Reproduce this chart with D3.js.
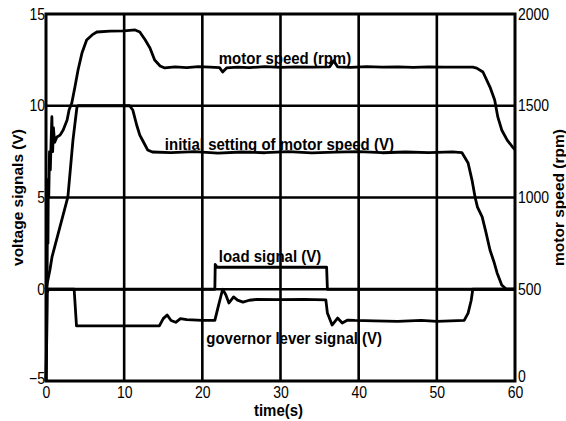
<!DOCTYPE html>
<html>
<head>
<meta charset="utf-8">
<script src="https://cdn.jsdelivr.net/npm/d3@7"></script>
<style>
  body { margin: 0; background: #fff; }
  text { font-family: "Liberation Sans", Arial, sans-serif; fill: #000; }
</style>
</head>
<body>
<div id="chart"></div>
<script>
// tick labels
const xTicks = [0, 10, 20, 30, 40, 50, 60];
const voltTicks = [-5, 0, 5, 10, 15];
const rpmTicks = [0, 500, 1000, 1500, 2000];

// motor speed (rpm), right axis
const motorTime = [0, 0.1, 0.2, 0.25, 0.3, 0.35, 0.45, 0.55, 0.65, 0.75, 0.85, 0.95, 1.1, 1.4, 1.8, 2.2, 2.7, 2.95, 3.3, 3.7, 4.1, 4.6, 5.2, 5.9, 6.5, 8.2, 10, 11.4, 12.0, 12.7, 13.3, 13.9, 14.6, 15.2, 16.5, 18, 19.5, 21, 22.2, 22.6, 23.1, 24.5, 26, 28, 30, 32, 34, 36.3, 36.8, 37.3, 39, 41, 43, 45, 47, 49, 51, 53, 54.6, 55.1, 55.9, 56.8, 57.4, 57.8, 58.3, 59.0, 59.7, 60];
const motorRpm = [0, 250, 1000, 750, 1100, 1000, 1250, 1150, 1300, 1440, 1250, 1380, 1300, 1330, 1340, 1368, 1422, 1477, 1515, 1602, 1695, 1787, 1858, 1886, 1902, 1907, 1908, 1913, 1902, 1858, 1815, 1749, 1717, 1706, 1712, 1708, 1713, 1710, 1708, 1684, 1706, 1711, 1708, 1713, 1709, 1712, 1710, 1712, 1745, 1712, 1709, 1713, 1710, 1712, 1709, 1712, 1710, 1711, 1710, 1705, 1684, 1602, 1531, 1439, 1368, 1313, 1275, 1260];

// initial setting of motor speed (V)
const settingTime = [0, 0.5, 0.77, 2.8, 3.45, 3.96, 4.1, 10.7, 11.1, 11.6, 12.0, 12.4, 13.0, 13.6, 16, 19, 22, 25, 28, 31, 34, 37, 40, 43, 46, 49, 52, 53.2, 54.0, 54.5, 54.9, 55.2, 55.8, 56.3, 56.8, 57.3, 57.7, 58.3, 58.9, 60];
const settingVolt = [0, 1.05, 1.76, 5.03, 8.13, 9.93, 10, 10, 9.77, 8.95, 8.4, 8.08, 7.59, 7.48, 7.45, 7.5, 7.42, 7.48, 7.44, 7.5, 7.43, 7.47, 7.5, 7.44, 7.48, 7.45, 7.49, 7.45, 6.88, 5.95, 5.0, 4.48, 3.94, 3.07, 2.14, 1.5, 0.9, 0.23, 0, 0];

// load signal (V)
const loadTime = [0, 21.6, 21.65, 21.9, 35.9, 36.0, 60];
const loadVolt = [0, 0, 1.35, 1.2, 1.2, 0, 0];

// governor lever signal (V)
const leverTime = [0, 0.15, 0.3, 3.6, 3.9, 8, 14.5, 15.0, 15.5, 16.0, 16.6, 17.2, 18, 20, 21.6, 22.0, 22.6, 23.0, 23.4, 24.0, 24.5, 25.2, 26.0, 27, 30, 33, 35.8, 36.0, 36.6, 37.3, 37.9, 38.6, 39.5, 42, 45, 48, 50, 53.5, 54.0, 54.4, 54.6, 60];
const leverVolt = [-5, -0.2, 0, 0, -2.0, -2.0, -2.0, -1.6, -1.4, -1.7, -1.8, -1.6, -1.65, -1.7, -1.7, -1.0, 0.0, -0.3, -0.75, -0.42, -0.59, -0.7, -0.6, -0.55, -0.57, -0.55, -0.58, -1.3, -1.95, -1.57, -1.84, -1.68, -1.7, -1.72, -1.75, -1.7, -1.75, -1.7, -1.3, -0.6, 0, 0];

const width = 566, height = 421;
const margin = {top: 14, right: 51, bottom: 40, left: 46};
const stretch = 1.15; // glyphs in the original are a bit tall

const x = d3.scaleLinear().domain([0, 60]).range([margin.left, width - margin.right]);
const yV = d3.scaleLinear().domain([-5, 15]).range([height - margin.bottom, margin.top]);
const yR = d3.scaleLinear().domain([0, 2000]).range([height - margin.bottom, margin.top]);

const svg = d3.select("#chart").append("svg")
    .attr("width", width)
    .attr("height", height);

const pairs = (ts, vs) => ts.map((t, i) => [t, vs[i]]);

const lineV = d3.line().x(d => x(d[0])).y(d => yV(d[1]));
const lineR = d3.line().x(d => x(d[0])).y(d => yR(d[1]));

// data lines
const lines = svg.append("g")
    .attr("fill", "none")
    .attr("stroke", "#000")
    .attr("stroke-width", 2.8)
    .attr("stroke-linejoin", "round");

lines.append("path").attr("d", lineR(pairs(motorTime, motorRpm)));
lines.append("path").attr("d", lineV(pairs(settingTime, settingVolt)));
lines.append("path").attr("d", lineV(pairs(loadTime, loadVolt)));
lines.append("path").attr("d", lineV(pairs(leverTime, leverVolt)));

// labels on the curves
const notes = [
    {text: "motor speed (rpm)", t: 22.1, v: 12.3},
    {text: "initial setting of motor speed (V)", t: 15.2, v: 7.6},
    {text: "load signal (V)", t: 22.1, v: 1.5},
    {text: "governor lever signal (V)", t: 20.5, v: -3.0}
];
svg.append("g").selectAll("text")
    .data(notes)
    .join("text")
    .attr("transform", d => "translate(" + x(d.t) + "," + yV(d.v) + ") scale(1," + stretch + ")")
    .attr("font-size", 15)
    .attr("font-weight", "bold")
    .text(d => d.text);

// grid, drawn over the labels like the original
const grid = svg.append("g").attr("stroke", "#000").attr("stroke-width", 2.6);
grid.selectAll("line.v")
    .data(xTicks.slice(1, -1))
    .join("line")
    .attr("x1", d => x(d)).attr("x2", d => x(d))
    .attr("y1", yV(15)).attr("y2", yV(-5));
grid.selectAll("line.h")
    .data([0, 5, 10])
    .join("line")
    .attr("x1", x(0)).attr("x2", x(60))
    .attr("y1", d => yV(d)).attr("y2", d => yV(d));

// frame
svg.append("rect")
    .attr("x", x(0)).attr("y", yV(15))
    .attr("width", x(60) - x(0)).attr("height", yV(-5) - yV(15))
    .attr("fill", "none")
    .attr("stroke", "#000")
    .attr("stroke-width", 3);

// axes
const xAxis = svg.append("g")
    .attr("transform", "translate(0," + yV(-5) + ")")
    .call(d3.axisBottom(x).tickValues(xTicks).tickSize(0).tickPadding(5).tickFormat(d3.format("d")));
const leftAxis = svg.append("g")
    .attr("transform", "translate(" + x(0) + ",0)")
    .call(d3.axisLeft(yV).tickValues(voltTicks).tickSize(0).tickPadding(1).tickFormat(d3.format("d")));
const rightAxis = svg.append("g")
    .attr("transform", "translate(" + x(60) + ",0)")
    .call(d3.axisRight(yR).tickValues(rpmTicks).tickSize(0).tickPadding(3).tickFormat(d3.format("d")));

[xAxis, leftAxis, rightAxis].forEach(a => {
    a.select(".domain").remove();
    a.selectAll("text")
        .attr("font-size", 14)
        .attr("font-family", "Liberation Sans, Arial, sans-serif")
        .attr("fill", "#111")
        .attr("transform", "scale(1," + stretch + ")");
});
// lowest labels sit a little higher so they clear the time labels
leftAxis.selectAll(".tick").filter(d => d === -5).select("text").attr("dy", "0.15em");
rightAxis.selectAll(".tick").filter(d => d === 0).select("text").attr("dy", "0em");

// axis titles
svg.append("text")
    .attr("transform", "translate(23," + yV(5) + ") rotate(-90)")
    .attr("text-anchor", "middle")
    .attr("font-size", 15.5)
    .attr("font-weight", "bold")
    .text("voltage signals (V)");

svg.append("text")
    .attr("transform", "translate(564," + yV(5) + ") rotate(-90)")
    .attr("text-anchor", "middle")
    .attr("font-size", 15.5)
    .attr("font-weight", "bold")
    .text("motor speed (rpm)");

svg.append("text")
    .attr("transform", "translate(" + ((x(0) + x(60)) / 2 - 2) + ",416) scale(1," + stretch + ")")
    .attr("text-anchor", "middle")
    .attr("font-size", 15)
    .attr("font-weight", "bold")
    .text("time(s)");
</script>
</body>
</html>
